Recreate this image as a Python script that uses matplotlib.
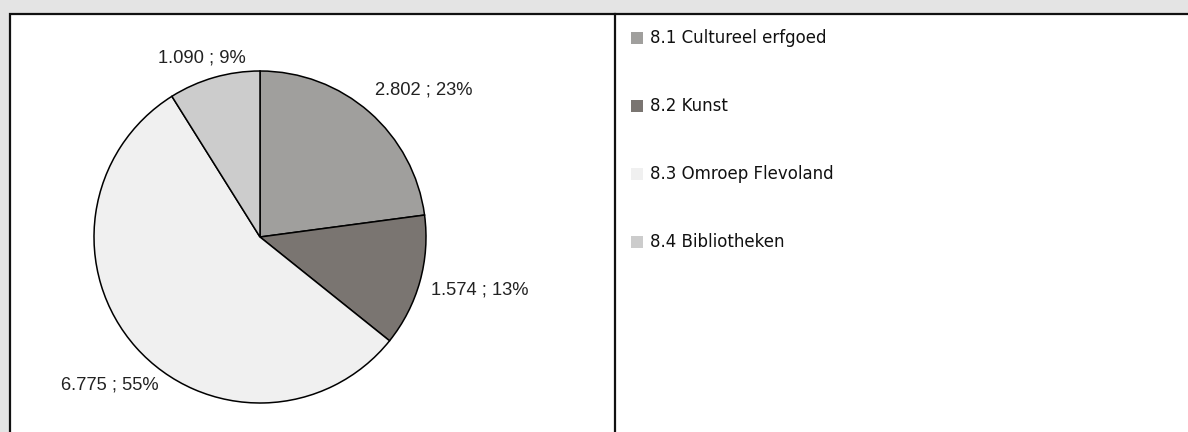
import numpy as np
import matplotlib.pyplot as plt
from matplotlib.patches import Rectangle
from matplotlib.lines import Line2D

# data
categories = ["8.1 Cultureel erfgoed", "8.2 Kunst", "8.3 Omroep Flevoland", "8.4 Bibliotheken"]
values = [2.802, 1.574, 6.775, 1.090]
value_labels = ["2.802", "1.574", "6.775", "1.090"]
colors = ["#a09f9d", "#7a7571", "#f0f0f0", "#cccccc"]

# label placement per slice (distance in radii, angle offset in degrees)
lab_dist = [1.325, 1.363, 1.27, 1.137]
lab_shift = [-6.9, 2.0, 2.9, 2.0]

W, H = 1188, 432
fig = plt.figure(figsize=(W / 100, H / 100), dpi=100)
fig.patch.set_facecolor("#e4e4e4")

# white panel with border
panel = Rectangle((10 / W, -0.1), 1.2, (H - 14) / H + 0.1, transform=fig.transFigure,
                  facecolor="white", edgecolor="#111111", linewidth=1.6, zorder=-10)
fig.add_artist(panel)
fig.add_artist(Line2D([615 / W, 615 / W], [0, (H - 14) / H], transform=fig.transFigure,
                      color="#111111", linewidth=1.6, zorder=-9))

cx, cy, r = 260, 237, 166
ax = fig.add_axes([(cx - r) / W, (H - cy - r) / H, 2 * r / W, 2 * r / H])
ax.set_zorder(5)
ax.patch.set_visible(False)
wedges, _ = ax.pie(values, colors=colors, startangle=90, counterclock=False,
                   wedgeprops=dict(edgecolor="black", linewidth=1.1))
ax.set_xlim(-1, 1)
ax.set_ylim(-1, 1)
ax.axis("off")

total = sum(values)
for w, v, vl, d, s in zip(wedges, values, value_labels, lab_dist, lab_shift):
    mid = np.deg2rad((w.theta1 + w.theta2) / 2 + s)
    pct = round(v / total * 100)
    ax.text(d * np.cos(mid), d * np.sin(mid), f"{vl} ; {pct}%", ha="center", va="center",
            fontsize=13.2, family="Liberation Sans", color="#222222")

# legend
for i, (cat, col) in enumerate(zip(categories, colors)):
    y = (H - (38 + i * 68)) / H
    fig.add_artist(Rectangle((631 / W, y - 6 / H), 12 / W, 12 / H, transform=fig.transFigure,
                             facecolor=col, edgecolor="none", zorder=3))
    fig.text(650 / W, y, cat, ha="left", va="center", fontsize=12,
             family="DejaVu Sans", color="#111111", zorder=3)

fig.savefig("out.png", dpi=100, facecolor=fig.get_facecolor())
